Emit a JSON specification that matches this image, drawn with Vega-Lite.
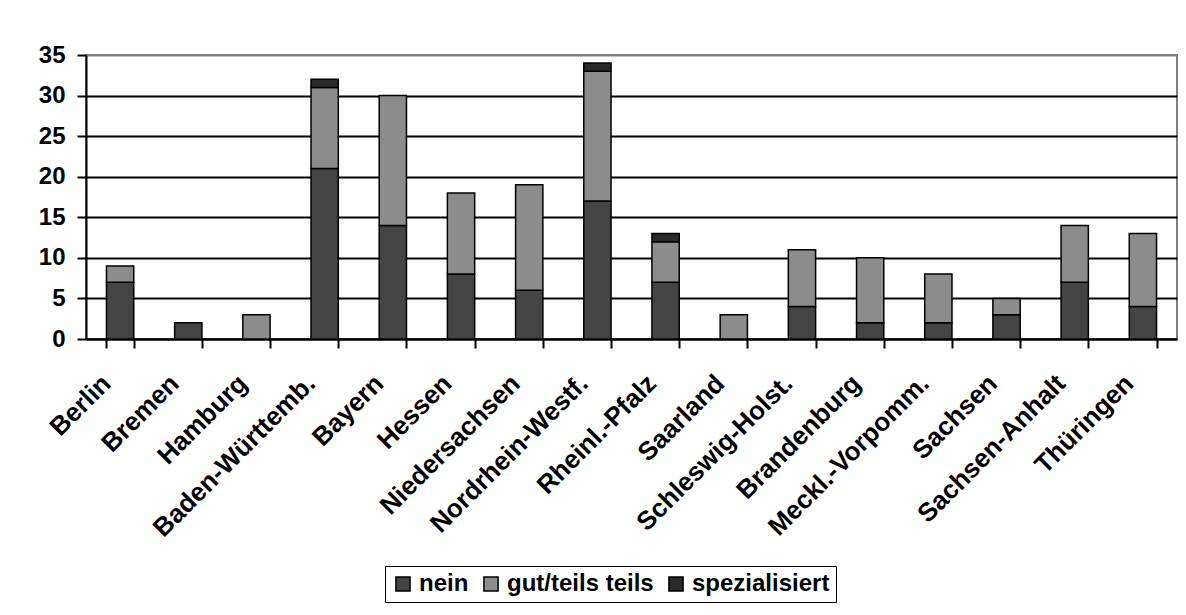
{
  "$schema": "https://vega.github.io/schema/vega-lite/v6.json",
  "width": 1091,
  "height": 284,
  "autosize": "none",
  "padding": {"left": 86, "top": 55, "right": 9, "bottom": 276},
  "background": "white",
  "config": {
    "view": {"stroke": "#808080", "strokeWidth": 2},
    "font": "Liberation Sans"
  },
  "data": {
    "values": [
      {"land": "Berlin", "kat": "nein", "o": 1, "n": 7},
      {"land": "Berlin", "kat": "gut/teils teils", "o": 2, "n": 2},
      {"land": "Bremen", "kat": "nein", "o": 1, "n": 2},
      {"land": "Hamburg", "kat": "gut/teils teils", "o": 2, "n": 3},
      {"land": "Baden-Württemb.", "kat": "nein", "o": 1, "n": 21},
      {"land": "Baden-Württemb.", "kat": "gut/teils teils", "o": 2, "n": 10},
      {"land": "Baden-Württemb.", "kat": "spezialisiert", "o": 3, "n": 1},
      {"land": "Bayern", "kat": "nein", "o": 1, "n": 14},
      {"land": "Bayern", "kat": "gut/teils teils", "o": 2, "n": 16},
      {"land": "Hessen", "kat": "nein", "o": 1, "n": 8},
      {"land": "Hessen", "kat": "gut/teils teils", "o": 2, "n": 10},
      {"land": "Niedersachsen", "kat": "nein", "o": 1, "n": 6},
      {"land": "Niedersachsen", "kat": "gut/teils teils", "o": 2, "n": 13},
      {"land": "Nordrhein-Westf.", "kat": "nein", "o": 1, "n": 17},
      {"land": "Nordrhein-Westf.", "kat": "gut/teils teils", "o": 2, "n": 16},
      {"land": "Nordrhein-Westf.", "kat": "spezialisiert", "o": 3, "n": 1},
      {"land": "Rheinl.-Pfalz", "kat": "nein", "o": 1, "n": 7},
      {"land": "Rheinl.-Pfalz", "kat": "gut/teils teils", "o": 2, "n": 5},
      {"land": "Rheinl.-Pfalz", "kat": "spezialisiert", "o": 3, "n": 1},
      {"land": "Saarland", "kat": "gut/teils teils", "o": 2, "n": 3},
      {"land": "Schleswig-Holst.", "kat": "nein", "o": 1, "n": 4},
      {"land": "Schleswig-Holst.", "kat": "gut/teils teils", "o": 2, "n": 7},
      {"land": "Brandenburg", "kat": "nein", "o": 1, "n": 2},
      {"land": "Brandenburg", "kat": "gut/teils teils", "o": 2, "n": 8},
      {"land": "Meckl.-Vorpomm.", "kat": "nein", "o": 1, "n": 2},
      {"land": "Meckl.-Vorpomm.", "kat": "gut/teils teils", "o": 2, "n": 6},
      {"land": "Sachsen", "kat": "nein", "o": 1, "n": 3},
      {"land": "Sachsen", "kat": "gut/teils teils", "o": 2, "n": 2},
      {"land": "Sachsen-Anhalt", "kat": "nein", "o": 1, "n": 7},
      {"land": "Sachsen-Anhalt", "kat": "gut/teils teils", "o": 2, "n": 7},
      {"land": "Thüringen", "kat": "nein", "o": 1, "n": 4},
      {"land": "Thüringen", "kat": "gut/teils teils", "o": 2, "n": 9}
    ]
  },
  "mark": {"type": "bar", "stroke": "black", "strokeWidth": 1.5},
  "encoding": {
    "x": {
      "field": "land",
      "type": "nominal",
      "sort": null,
      "scale": {"paddingInner": 0.6, "paddingOuter": 0.3},
      "axis": {
        "title": null,
        "domainColor": "black",
        "domainWidth": 2,
        "tickColor": "black",
        "tickWidth": 2,
        "tickSize": 9,
        "tickBand": "extent",
        "labelAngle": -45,
        "labelAlign": "right",
        "labelBaseline": "middle",
        "labelFont": "Liberation Sans",
        "labelFontWeight": "bold",
        "labelFontSize": 26,
        "labelColor": "black",
        "labelPadding": 31,
        "labelOffset": -14,
        "labelLimit": 500,
        "labelOverlap": false
      }
    },
    "y": {
      "field": "n",
      "type": "quantitative",
      "aggregate": "sum",
      "stack": "zero",
      "scale": {"domain": [0, 35], "nice": false},
      "axis": {
        "title": null,
        "values": [0, 5, 10, 15, 20, 25, 30, 35],
        "grid": true,
        "gridColor": {"condition": {"test": "datum.value == 35", "value": "#808080"}, "value": "black"},
        "gridWidth": 2,
        "domainColor": "black",
        "domainWidth": 2,
        "tickColor": "black",
        "tickWidth": 2,
        "tickSize": 9,
        "labelFont": "Liberation Sans",
        "labelFontWeight": "bold",
        "labelFontSize": 24,
        "labelColor": "black",
        "labelPadding": 12
      }
    },
    "color": {
      "field": "kat",
      "type": "nominal",
      "scale": {
        "domain": ["nein", "gut/teils teils", "spezialisiert"],
        "range": ["#444444", "#8c8c8c", "#2a2a2a"]
      },
      "legend": {
        "title": null,
        "orient": "none",
        "legendX": 299,
        "legendY": 511,
        "direction": "horizontal",
        "columns": 3,
        "strokeColor": "black",
        "padding": 6,
        "symbolType": "square",
        "symbolSize": 200,
        "symbolStrokeColor": "black",
        "symbolStrokeWidth": 1.5,
        "labelFont": "Liberation Sans",
        "labelFontWeight": "bold",
        "labelFontSize": 24,
        "labelColor": "black",
        "labelOffset": 4,
        "labelLimit": 400,
        "columnPadding": 10
      }
    },
    "order": {"field": "o", "type": "quantitative"}
  }
}
